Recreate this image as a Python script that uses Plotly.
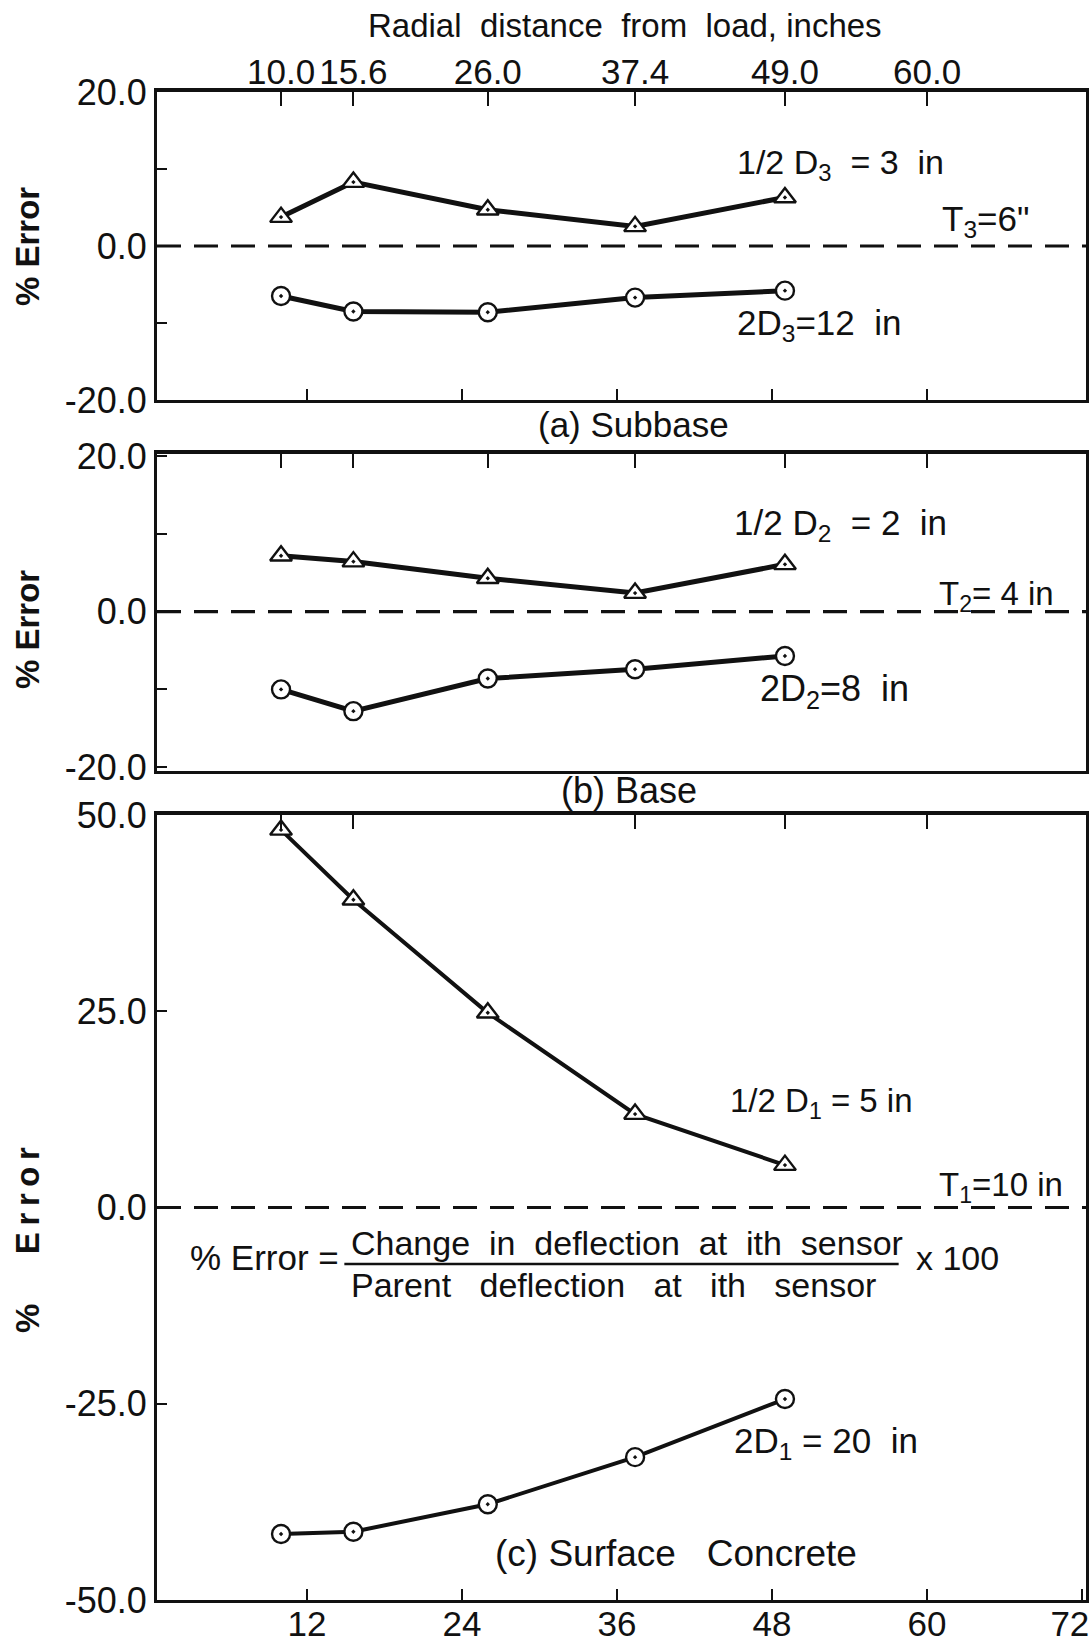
import plotly.graph_objects as go

# Radial distance of each sensor from the load (inches)
distance = [10.0, 15.6, 26.0, 37.4, 49.0]

# % error in deflection for each layer, half and double thickness
subbase_half = [3.75, 8.3, 4.7, 2.55, 6.3]
subbase_double = [-6.5, -8.5, -8.6, -6.7, -5.8]
base_half = [7.2, 6.45, 4.3, 2.4, 6.1]
base_double = [-10.0, -12.8, -8.6, -7.4, -5.7]
surface_half = [48.1, 39.2, 24.8, 11.9, 5.4]
surface_double = [-41.6, -41.3, -37.8, -31.8, -24.4]

# Axis ticks
top_tickvals = [10.0, 15.6, 26.0, 37.4, 49.0, 60.0]
top_ticktext = ["10.0", "15.6", "26.0", "37.4", "49.0", "60.0"]
bottom_tickvals = [12, 24, 36, 48, 60, 72]
# the last label is padded so it stays inside the page edge
bottom_ticktext = ["12", "24", "36", "48", "60", "72\u2002\u2009"]
y_small_vals = [-20, -10, 0, 10, 20]
y_small_text = ["-20.0", "", "0.0", "", "20.0"]
y_large_vals = [-50, -25, 0, 25, 50]
y_large_text = ["-50.0", "-25.0", "0.0", "25.0", "50.0"]

X_RANGE = [0.4, 72.3]
W, H = 1092, 1647
FONT = "Liberation Sans, Arial, sans-serif"
BLACK = "#111111"


def px_x(p):
    return p / W


def px_y(p):
    return 1 - p / H


x_domain = [px_x(157), px_x(1086)]
panels = [
    # (y-domain in pixels top/bottom, y range)
    ((92, 400), [-20, 20]),
    ((454, 771), [-20.5, 20.3]),
    ((815, 1600), [-50, 50]),
]

fig = go.Figure()

series = [
    (subbase_half, subbase_double, 1),
    (base_half, base_double, 2),
    (surface_half, surface_double, 3),
]

for half, double, k in series:
    xa = "x" if k == 1 else f"x{2 * k - 1}"
    ya = "y" if k == 1 else f"y{k}"
    lw = 5 if k < 3 else 4
    fig.add_trace(go.Scatter(
        x=distance, y=half, xaxis=xa, yaxis=ya, mode="lines+markers",
        line=dict(color=BLACK, width=lw),
        marker=dict(symbol="triangle-up-dot", size=19, color="white",
                    line=dict(color=BLACK, width=2.4)),
        showlegend=False, hoverinfo="skip"))
    fig.add_trace(go.Scatter(
        x=distance, y=double, xaxis=xa, yaxis=ya, mode="lines+markers",
        line=dict(color=BLACK, width=lw),
        marker=dict(symbol="circle-dot", size=18, color="white",
                    line=dict(color=BLACK, width=2.4)),
        showlegend=False, hoverinfo="skip"))
    # dashed reference at zero error, on the top axis of each panel
    top_xa = f"x{2 * k}"
    fig.add_trace(go.Scatter(
        x=X_RANGE, y=[0, 0], xaxis=top_xa, yaxis=ya, mode="lines",
        line=dict(color=BLACK, width=3.2, dash="24px,13px"),
        showlegend=False, hoverinfo="skip"))

layout = dict(
    width=W, height=H,
    margin=dict(l=0, r=0, t=0, b=0, autoexpand=False),
    paper_bgcolor="white", plot_bgcolor="white",
    font=dict(family=FONT, size=34, color=BLACK),
    showlegend=False,
)

for k, ((top, bot), yr) in enumerate(panels, start=1):
    bx = "xaxis" if k == 1 else f"xaxis{2 * k - 1}"
    tx = f"xaxis{2 * k}"
    yname = "yaxis" if k == 1 else f"yaxis{k}"
    yref = "y" if k == 1 else f"y{k}"
    bx_ref = "x" if k == 1 else f"x{2 * k - 1}"
    if k == 1:
        bvals, btext = bottom_tickvals[:5], bottom_ticktext[:5]
    elif k == 2:
        bvals, btext = [], []
    else:
        bvals, btext = bottom_tickvals, bottom_ticktext
    layout[bx] = dict(
        domain=x_domain, range=X_RANGE, anchor=yref, automargin=False,
        showline=True, linecolor=BLACK, linewidth=3, mirror=False,
        showgrid=False, zeroline=False,
        ticks="inside", ticklen=11, tickwidth=2, tickcolor=BLACK,
        tickvals=bvals, ticktext=btext,
        showticklabels=(k == 3), ticklabeloverflow="allow",
        ticklabelstandoff=-9,
        tickfont=dict(size=35),
    )
    tvals = top_tickvals if k < 3 else [v for v in top_tickvals if v != 26.0]
    layout[tx] = dict(
        range=X_RANGE, overlaying=bx_ref, anchor=yref, side="top",
        automargin=False,
        showline=True, linecolor=BLACK, linewidth=3.5,
        showgrid=False, zeroline=False,
        ticks="inside", ticklen=14, tickwidth=2, tickcolor=BLACK,
        tickvals=tvals,
        ticktext=[top_ticktext[top_tickvals.index(v)] for v in tvals],
        showticklabels=(k == 1), ticklabelstandoff=-10,
        tickfont=dict(size=35),
    )
    if k < 3:
        yv, yt = y_small_vals, y_small_text
    else:
        yv, yt = y_large_vals, y_large_text
    layout[yname] = dict(
        domain=[px_y(bot), px_y(top)], range=yr, anchor=bx_ref,
        automargin=False,
        showline=True, linecolor=BLACK, linewidth=3, mirror=True,
        showgrid=False, zeroline=False,
        ticks="inside", ticklen=10, tickwidth=2, tickcolor=BLACK,
        tickvals=yv, ticktext=yt, tickfont=dict(size=36),
    )

fig.update_layout(**layout)

ann = []


def label(text, x, y, xref, yref, size=33, xanchor="left", yanchor="middle",
          angle=0):
    ann.append(dict(text=text, x=x, y=y, xref=xref, yref=yref,
                    showarrow=False, xanchor=xanchor, yanchor=yanchor,
                    textangle=angle, font=dict(size=size, family=FONT,
                                               color=BLACK)))


# Figure title (top axis)
label("Radial  distance  from  load, inches", px_x(625), px_y(26),
      "paper", "paper", size=33, xanchor="center")

# Y axis titles
label("<b>% Error</b>", px_x(27), px_y(247), "paper", "paper", size=33,
      xanchor="center", angle=-90)
label("<b>% Error</b>", px_x(27), px_y(630), "paper", "paper", size=33,
      xanchor="center", angle=-90)
label("<b>%\u2003\u2002E\u2009r\u2009r\u2009o\u2009r</b>", px_x(27),
      px_y(1240), "paper", "paper", size=33, xanchor="center", angle=-90)

# Panel captions
label("(a) Subbase", px_x(633), px_y(425), "paper", "paper", size=35,
      xanchor="center")
label("(b) Base", px_x(629), px_y(790), "paper", "paper", size=36,
      xanchor="center")
label("(c) Surface   Concrete", 40.6, -44.1, "x5", "y3", size=37,
      xanchor="center")

# Series labels, subbase
label("1/2 D<sub>3</sub>  = 3  in", 45.1, 10.6, "x", "y", size=34)
label("T<sub>3</sub>=6\"", 61.0, 3.3, "x", "y", size=35)
label("2D<sub>3</sub>=12  in", 45.1, -10.2, "x", "y", size=35)

# Series labels, base
label("1/2 D<sub>2</sub>  = 2  in", 44.9, 11.2, "x3", "y2", size=35)
label("T<sub>2</sub>= 4 in", 60.8, 2.0, "x3", "y2")
label("2D<sub>2</sub>=8  in", 46.9, -10.2, "x3", "y2", size=36)

# Series labels, surface concrete
label("1/2 D<sub>1</sub> = 5 in", 44.6, 13.3, "x5", "y3")
label("T<sub>1</sub>=10 in", 60.8, 2.6, "x5", "y3")
label("2D<sub>1</sub> = 20  in", 44.9, -30.0, "x5", "y3", size=35)

# Error definition
label("% Error =", 2.8, -6.4, "x5", "y3", size=35)
label("Change  in  deflection  at  ith  sensor", 15.25, -4.5, "x5", "y3",
      size=34)
label("Parent   deflection   at   ith   sensor", 15.25, -9.9, "x5", "y3",
      size=34)
label("x 100", 59.0, -6.4, "x5", "y3", size=34)

fig.update_layout(annotations=ann)

# Fraction bar of the error definition
fig.add_shape(type="line", xref="x5", yref="y3", x0=14.9, x1=57.8,
              y0=-7.2, y1=-7.2, line=dict(color=BLACK, width=2.5))

fig.write_html("out.html")
